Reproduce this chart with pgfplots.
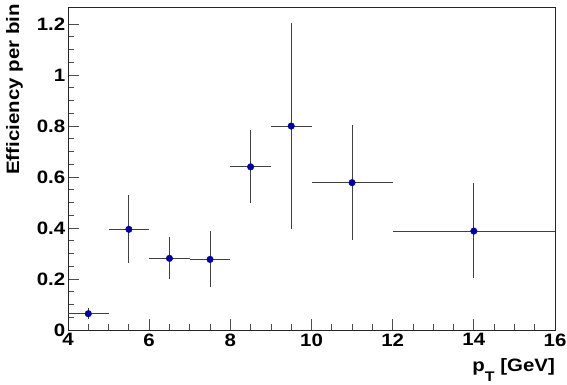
\documentclass[border=0pt]{standalone}
\usepackage{fontspec}
\setmainfont{Liberation Sans}[FakeStretch=1.14]
\usepackage{pgfplots}
\pgfplotsset{compat=1.18}
\definecolor{markblue}{rgb}{0,0,0.62}
\begin{document}
\begin{tikzpicture}[x=1bp,y=1bp]
\useasboundingbox (0,0) rectangle (567,384);
\begin{axis}[
  at={(68bp,54bp)}, anchor=south west,
  scale only axis, width=487bp, height=323bp,
  xmin=4, xmax=16, ymin=0, ymax=1.267,
  xtick={4,6,8,10,12,14,16},
  ytick={0,0.2,0.4,0.6,0.8,1,1.2},
  minor tick num=3,
  tick align=inside,
  xtick pos=left, ytick pos=left,
  major tick length=11bp, minor tick length=6bp,
  tick style={color=black!70, line width=0.8bp},
  axis line style={color=black!85, line width=0.9bp},
  ticklabel style={font=\fontsize{18}{18}\selectfont\bfseries},
  yticklabel style={inner sep=2.5bp},
  /pgf/number format/assume math mode=true,
  xlabel={p\raisebox{-10bp}{\fontsize{14}{14}\selectfont T} [GeV]},
  xlabel style={font=\fontsize{18}{18}\selectfont\bfseries, at={(axis description cs:1,-0.130)}, anchor=base east, inner sep=0pt},
  ylabel={Efficiency per bin},
  ylabel style={font=\fontsize{18}{18}\selectfont\bfseries, at={(axis description cs:-0.1006,1.009)}, anchor=base east, rotate=0, inner sep=0pt},
]
\addplot[only marks, mark=*, mark size=3.3bp, color=markblue,
  error bars/.cd, x dir=both, x explicit, y dir=both, y explicit,
  error mark=none, error bar style={line width=0.9bp, color=black!75}]
  table[x=x, y=y, x error=ex, y error plus=ep, y error minus=em] {
x    y     ex  ep    em
4.5  0.064 0.5 0.024 0.021
5.5  0.395 0.5 0.134 0.134
6.5  0.281 0.5 0.082 0.080
7.5  0.277 0.5 0.111 0.110
8.5  0.640 0.5 0.144 0.143
9.5  0.800 0.5 0.405 0.405
11   0.578 1   0.226 0.225
14   0.388 2   0.187 0.185
};
\end{axis}
\end{tikzpicture}
\end{document}
